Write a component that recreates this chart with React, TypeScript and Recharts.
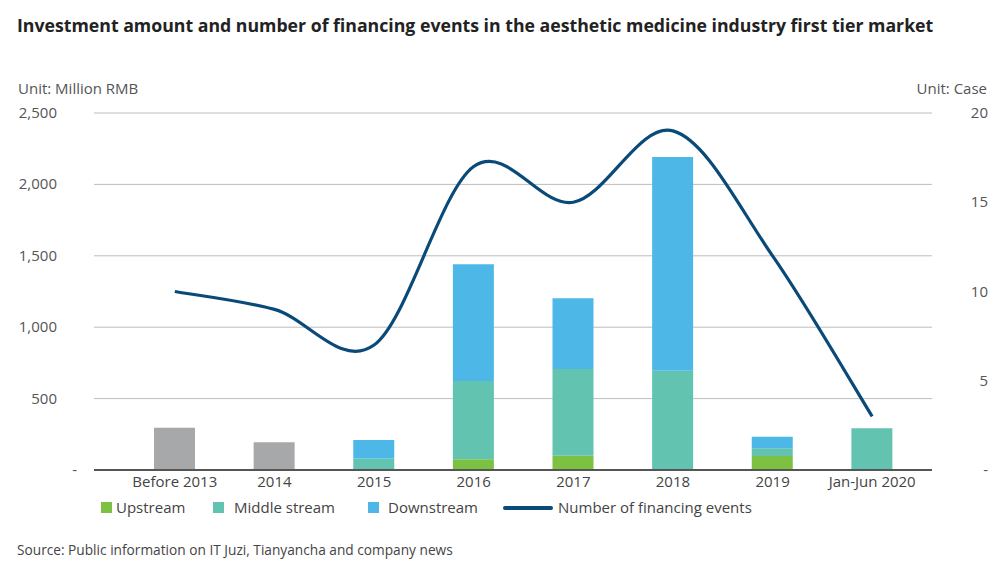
import React from 'react'
import { ComposedChart, Bar, Line, XAxis, YAxis, CartesianGrid } from 'recharts'

const years = ['Before 2013', '2014', '2015', '2016', '2017', '2018', '2019', 'Jan-Jun 2020']
const unsplit = [295, 195, 0, 0, 0, 0, 0, 0]
const upstream = [0, 0, 0, 75, 100, 0, 98, 0]
const middleStream = [0, 0, 80, 548, 607, 695, 54, 292]
const downstream = [0, 0, 130, 817, 495, 1497, 81, 0]
const financingEvents = [10, 9, 7, 17, 15, 19, 12, 3]

const leftTicks = [0, 500, 1000, 1500, 2000, 2500]
const rightTicks = [0, 5, 10, 15, 20]

const data = years.map((year, i) => ({
  year,
  unsplit: unsplit[i],
  upstream: upstream[i],
  middle: middleStream[i],
  downstream: downstream[i],
  events: financingEvents[i],
}))

const FONT = '"Open Sans", "Noto Sans", sans-serif'
const GREEN = '#7cc142'
const TEAL = '#62c4b0'
const BLUE = '#4db8e8'
const GREY = '#a6a8aa'
const NAVY = '#0a4a78'

// excel-style smoothed line (catmull-rom through every point)
const smoothCurve = (ctx: any) => {
  let pts: number[][] = []
  return {
    areaStart() {},
    areaEnd() {},
    lineStart() { pts = [] },
    point(x: number, y: number) { pts.push([+x, +y]) },
    lineEnd() {
      if (!pts.length) return
      ctx.moveTo(pts[0][0], pts[0][1])
      for (let i = 0; i < pts.length - 1; i++) {
        const p0 = pts[i - 1] || pts[i]
        const p1 = pts[i]
        const p2 = pts[i + 1]
        const p3 = pts[i + 2] || p2
        ctx.bezierCurveTo(
          p1[0] + (p2[0] - p0[0]) / 6, p1[1] + (p2[1] - p0[1]) / 6,
          p2[0] - (p3[0] - p1[0]) / 6, p2[1] - (p3[1] - p1[1]) / 6,
          p2[0], p2[1]
        )
      }
    },
  }
}

const LeftTick = ({ y, payload }: any) => (
  <text x={payload.value === 0 ? 77 : 57} y={y} dy={5} textAnchor="end" fill="#555" fontSize={15} fontFamily={FONT}>
    {payload.value === 0 ? '-' : payload.value.toLocaleString('en-US')}
  </text>
)

const RightTick = ({ y, payload }: any) => (
  <text x={988} y={y} dy={5} textAnchor="end" fill="#555" fontSize={15} fontFamily={FONT}>
    {payload.value === 0 ? '-' : payload.value}
  </text>
)

const legendItems = [
  { label: 'Upstream', color: GREEN, left: 101, textLeft: 116 },
  { label: 'Middle stream', color: TEAL, left: 213, textLeft: 234 },
  { label: 'Downstream', color: BLUE, left: 368, textLeft: 388 },
]

export default function App() {
  return (
    <div style={{ position: 'absolute', left: 0, top: 0, width: 1007, height: 573, background: '#fff', fontFamily: FONT }}>
      <div style={{ position: 'absolute', left: 17, top: 13, fontSize: 17.7, fontWeight: 700, color: '#222', whiteSpace: 'nowrap' }}>
        Investment amount and number of financing events in the aesthetic medicine industry first tier market
      </div>
      <div style={{ position: 'absolute', left: 18, top: 78, fontSize: 15, color: '#555' }}>Unit: Million RMB</div>
      <div style={{ position: 'absolute', right: 20, top: 78, fontSize: 15, color: '#555' }}>Unit: Case</div>

      <div style={{ position: 'absolute', left: 0, top: 0 }}>
        <ComposedChart width={1007} height={573} data={data} margin={{ top: 113, right: 0, bottom: 0, left: 0 }} barSize={41}>
          <CartesianGrid horizontal vertical={false} stroke="#bdbdbd" yAxisId="left" />
          <XAxis
            dataKey="year"
            height={103}
            padding={{ left: 31, right: 10 }}
            tickLine={false}
            tickSize={0}
            tickMargin={6}
            axisLine={{ stroke: '#555', strokeWidth: 2 }}
            tick={{ fill: '#444', fontSize: 15, fontFamily: FONT }}
            interval={0}
          />
          <YAxis yAxisId="left" width={94} domain={[0, 2500]} ticks={leftTicks} axisLine={false} tickLine={false} tick={<LeftTick />} />
          <YAxis yAxisId="right" orientation="right" width={75} domain={[0, 20]} ticks={rightTicks} axisLine={false} tickLine={false} tick={<RightTick />} />
          <Bar yAxisId="left" dataKey="unsplit" stackId="a" fill={GREY} isAnimationActive={false} />
          <Bar yAxisId="left" dataKey="upstream" stackId="a" fill={GREEN} isAnimationActive={false} />
          <Bar yAxisId="left" dataKey="middle" stackId="a" fill={TEAL} isAnimationActive={false} />
          <Bar yAxisId="left" dataKey="downstream" stackId="a" fill={BLUE} isAnimationActive={false} />
          <Line yAxisId="right" dataKey="events" type={smoothCurve as any} stroke={NAVY} strokeWidth={3.2} dot={false} isAnimationActive={false} />
        </ComposedChart>
      </div>

      {legendItems.map((item) => (
        <React.Fragment key={item.label}>
          <div style={{ position: 'absolute', left: item.left, top: 502, width: 11, height: 11, background: item.color }} />
          <div style={{ position: 'absolute', left: item.textLeft, top: 497, fontSize: 15, color: '#444' }}>{item.label}</div>
        </React.Fragment>
      ))}
      <div style={{ position: 'absolute', left: 503, top: 506, width: 50, height: 4, borderRadius: 2, background: NAVY }} />
      <div style={{ position: 'absolute', left: 558, top: 497, fontSize: 15, color: '#444' }}>Number of financing events</div>

      <div style={{ position: 'absolute', left: 17, top: 540, fontSize: 13.7, color: '#444' }}>
        Source: Public information on IT Juzi, Tianyancha and company news
      </div>
    </div>
  )
}
